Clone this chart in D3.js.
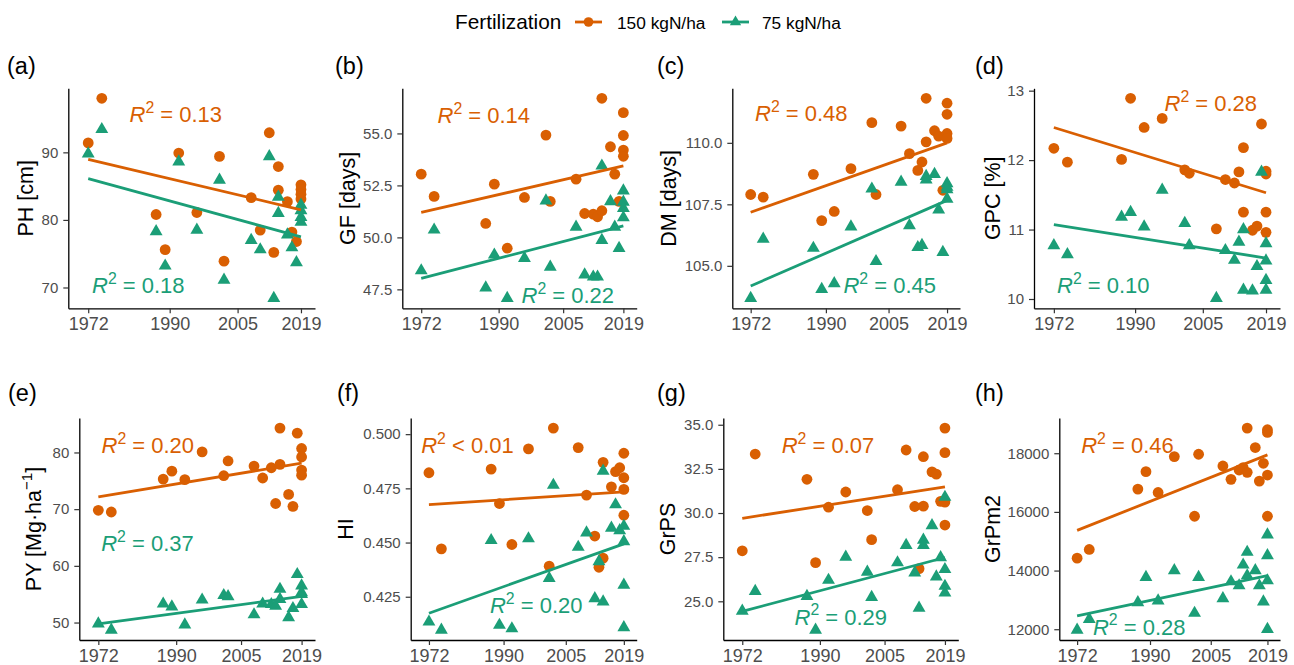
<!DOCTYPE html>
<html>
<head>
<meta charset="utf-8">
<script src="https://cdn.jsdelivr.net/npm/d3@7"></script>
<style>
  body { margin: 0; background: #fff; }
  svg { display: block; font-family: "Liberation Sans", Arial, Helvetica, sans-serif; }
  text { white-space: pre; }
</style>
</head>
<body>
<svg id="chart" width="1294" height="665"></svg>
<script>
// ---- data --------------------------------------------------------------
const YEARS = [1972, 1975, 1987, 1989, 1992, 1996, 2001, 2002, 2008, 2010, 2012,
  2013, 2014, 2014, 2016, 2017, 2018, 2019, 2019, 2019, 2019];
const X_TICKS = [1972, 1990, 2005, 2019];

const PH_150 = [91.4, 98.0, 80.8, 75.6, 89.9, 81.1, 89.4, 73.9, 83.3, 78.5, 92.9, 75.2, 87.9, 84.4, 82.7, 78.2, 76.8, 85.2, 84.5, 83.8, 83.1];
const PH_75 = [89.8, 93.4, 78.3, 73.2, 88.6, 78.5, 85.9, 71.1, 77.0, 75.6, 89.4, 68.4, 83.4, 81.0, 77.8, 75.9, 73.7, 82.2, 81.4, 80.4, 79.7];
const GF_150 = [53.04, 51.97, 50.67, 52.56, 49.48, 51.92, 54.92, 51.73, 52.80, 51.15, 51.12, 50.99, 56.69, 51.28, 54.36, 53.04, 51.73, 56.0, 54.9, 54.2, 53.9];
const GF_75 = [48.4, 50.36, 47.58, 49.16, 47.07, 49.0, 51.76, 48.58, 50.5, 48.2, 48.1, 48.1, 53.44, 49.86, 51.73, 50.5, 49.48, 52.24, 51.7, 51.4, 50.95];
const DM_150 = [107.9, 107.79, 108.72, 106.84, 107.21, 108.95, 110.82, 107.9, 110.68, 109.56, 108.88, 109.22, 111.81, 110.04, 110.49, 110.27, 108.07, 111.61, 111.16, 110.38, 110.18];
const DM_75 = [103.68, 106.09, 105.72, 104.05, 104.28, 106.59, 108.13, 105.18, 108.41, 106.64, 105.75, 105.84, 108.64, 108.5, 108.72, 107.28, 105.55, 108.35, 108.2, 108.1, 107.72];
const GPC_150 = [12.17, 11.97, 12.01, 12.89, 12.47, 12.60, 11.86, 11.81, 11.01, 11.72, 11.67, 11.83, 12.18, 11.25, 10.99, 11.05, 12.52, 11.84, 11.80, 11.25, 10.96];
const GPC_75 = [10.77, 10.64, 11.18, 11.25, 11.04, 11.57, 11.09, 10.77, 10.01, 10.70, 10.56, 10.82, 11.0, 10.13, 10.12, 10.47, 11.83, 10.80, 10.55, 10.27, 10.13];
const PY_150 = [69.8, 69.5, 75.3, 76.7, 75.2, 80.1, 75.9, 78.5, 77.6, 75.5, 77.3, 71.0, 77.9, 84.3, 72.6, 70.5, 83.4, 80.7, 79.2, 76.9, 76.0];
const PY_75 = [49.8, 48.7, 53.3, 52.8, 49.6, 54.0, 54.8, 54.6, 51.4, 53.3, 53.2, 52.9, 55.9, 54.1, 50.9, 52.5, 58.5, 56.5, 55.3, 53.2, 55.0];
const HI_150 = [0.4822, 0.4471, 0.4839, 0.4680, 0.4491, 0.4932, 0.4391, 0.5028, 0.4938, 0.4719, 0.4530, 0.4386, 0.4870, 0.4428, 0.4757, 0.4827, 0.4845, 0.4912, 0.4799, 0.4745, 0.4626];
const HI_75 = [0.4134, 0.4097, 0.4510, 0.4119, 0.4103, 0.4518, 0.4335, 0.4765, 0.4479, 0.4545, 0.4242, 0.4413, 0.4830, 0.4227, 0.4567, 0.4675, 0.4556, 0.4576, 0.4505, 0.4304, 0.4108];
const GRPS_150 = [27.86, 33.34, 31.91, 27.19, 30.33, 31.19, 30.14, 28.49, 31.32, 33.57, 30.37, 26.85, 33.19, 30.39, 32.33, 32.2, 30.66, 34.81, 33.42, 30.62, 29.32];
const GRPS_75 = [24.45, 25.57, 25.29, 23.38, 26.2, 27.51, 26.66, 25.23, 27.19, 28.18, 26.62, 24.62, 28.47, 28.18, 29.29, 26.39, 27.48, 30.90, 26.81, 25.86, 25.48];
const GRPM2_150 = [14423, 14720, 16777, 17371, 16663, 17886, 15851, 17966, 17566, 17109, 17429, 17509, 18857, 17349, 18194, 17051, 17657, 18800, 18709, 17257, 15851];
const GRPM2_75 = [11977, 12343, 12914, 13771, 12971, 14000, 12549, 13771, 13051, 13623, 13486, 14194, 14629, 13829, 14000, 13486, 12937, 15223, 14514, 13657, 12000];

// fitted line values at 1972 and 2019
const FIT_150 = [[88.96, 81.5], [51.2, 53.44], [107.18, 110.0], [12.47, 11.53], [72.16, 78.1], [0.4675, 0.4734], [29.70, 31.48], [15371, 17943]];
const FIT_75 = [[86.1, 77.5], [48.03, 50.55], [104.18, 107.66], [11.07, 10.59], [49.76, 54.6], [0.4174, 0.4494], [24.43, 27.48], [12457, 13829]];

const R2_150 = ['= 0.13', '= 0.14', '= 0.48', '= 0.28', '= 0.20', '< 0.01', '= 0.07', '= 0.46'];
const R2_75 = ['= 0.18', '= 0.22', '= 0.45', '= 0.10', '= 0.37', '= 0.20', '= 0.29', '= 0.28'];

const TAGS = ['(a)', '(b)', '(c)', '(d)', '(e)', '(f)', '(g)', '(h)'];
const Y_TITLES = ['PH [cm]', 'GF [days]', 'DM [days]', 'GPC [%]', 'PY [Mg\u00b7ha', 'HI', 'GrPS', 'GrPm2'];
const Y_TICKS = [
  [70, 80, 90], [47.5, 50, 52.5, 55], [105, 107.5, 110], [10, 11, 12, 13],
  [50, 60, 70, 80], [0.425, 0.45, 0.475, 0.5], [25, 27.5, 30, 32.5, 35], [12000, 14000, 16000, 18000]
];
const Y_FORMATS = ['d', '.1f', '.1f', 'd', 'd', '.3f', '.1f', 'd'];
const SERIES_LABELS = ['150 kgN/ha', '75 kgN/ha'];

// ---- layout ----------------------------------------------------------------
const C150 = '#D95F02';
const C75 = '#1B9E77';
const X_DOMAIN = [1967.6, 2022.1];
// plot area [left, top, right, bottom] of each panel
const PANEL_BOX = [
  [68.3, 88.3, 315, 308.3], [402.3, 88.3, 636.7, 308.3], [732.3, 88.3, 960, 308.3], [1034, 88.3, 1280, 308.3],
  [79.3, 418, 315, 640], [410.7, 418, 636.7, 640], [723.3, 418, 958.3, 640], [1059.3, 418, 1280, 640]
];
const TAG_AT = [[7, 74], [335, 74], [657, 74], [975, 74], [8, 401], [337, 401], [657, 401], [975, 401]];
const YTITLE_X = [25, 347, 668, 992, 33, 345, 667, 992];
const LABEL_150 = [[175.8, 114], [483.8, 115], [801.3, 113.5], [1210.8, 103.5], [147.8, 445], [467.5, 445], [828, 445], [1127.5, 445]];
const LABEL_75 = [[138.3, 285.5], [567.8, 295], [889.7, 285], [1103.3, 285], [147.5, 543.3], [536.2, 605], [840.8, 616.7], [1139.2, 626.7]];

const panels = [
  [PH_150, PH_75], [GF_150, GF_75], [DM_150, DM_75], [GPC_150, GPC_75],
  [PY_150, PY_75], [HI_150, HI_75], [GRPS_150, GRPS_75], [GRPM2_150, GRPM2_75]
];

const svg = d3.select('#chart');
const triangle = d3.symbol().type(d3.symbolTriangle).size(72);

function r2Label(g, pos, op, color) {
  const fs = 22;
  const t = g.append('text')
    .attr('x', pos[0]).attr('y', pos[1] + 0.36 * fs)
    .attr('text-anchor', 'middle')
    .attr('font-size', fs)
    .attr('fill', color);
  t.append('tspan').attr('font-style', 'italic').text('R');
  t.append('tspan').attr('font-size', fs * 0.72).attr('dy', -fs * 0.42).text('2');
  t.append('tspan').attr('dy', fs * 0.42).text(' ' + op);
}

panels.forEach(([hi, lo], i) => {
  const [l, t, r, b] = PANEL_BOX[i];
  const x = d3.scaleLinear().domain(X_DOMAIN).range([l, r]);
  const [mn, mx] = d3.extent(hi.concat(lo));
  const pad = (mx - mn) * 0.05;
  const y = d3.scaleLinear().domain([mn - pad, mx + pad]).range([b, t]);
  const g = svg.append('g');

  // axes
  const xAxis = g.append('g')
    .attr('transform', `translate(0,${b})`)
    .call(d3.axisBottom(x).tickValues(X_TICKS).tickFormat(d3.format('d'))
      .tickSize(5).tickPadding(4).tickSizeOuter(0));
  xAxis.selectAll('text').attr('font-size', 18).attr('fill', '#4D4D4D').attr('font-family', null);

  const yAxis = g.append('g')
    .attr('transform', `translate(${l},0)`)
    .call(d3.axisLeft(y).tickValues(Y_TICKS[i]).tickFormat(d3.format(Y_FORMATS[i]))
      .tickSize(5).tickPadding(5).tickSizeOuter(0));
  yAxis.selectAll('text').attr('font-size', 15).attr('fill', '#4D4D4D').attr('font-family', null);

  g.selectAll('.domain').attr('stroke', '#000').attr('stroke-width', 1.3);
  g.selectAll('.tick line').attr('stroke', '#333').attr('stroke-width', 1.2);

  // points
  g.append('g').selectAll('circle')
    .data(hi)
    .join('circle')
    .attr('cx', (d, k) => x(YEARS[k]))
    .attr('cy', d => y(d))
    .attr('r', 5.4)
    .attr('fill', C150);

  g.append('g').selectAll('path')
    .data(lo)
    .join('path')
    .attr('d', triangle)
    .attr('transform', (d, k) => `translate(${x(YEARS[k])},${y(d)})`)
    .attr('fill', C75);

  // fitted lines
  const ends = [YEARS[0], YEARS[YEARS.length - 1]];
  const line = d3.line().x((d, k) => x(ends[k])).y(d => y(d));
  g.append('path').attr('d', line(FIT_150[i])).attr('fill', 'none')
    .attr('stroke', C150).attr('stroke-width', 2.8);
  g.append('path').attr('d', line(FIT_75[i])).attr('fill', 'none')
    .attr('stroke', C75).attr('stroke-width', 2.8);

  r2Label(g, LABEL_150[i], R2_150[i], C150);
  r2Label(g, LABEL_75[i], R2_75[i], C75);

  // tag
  g.append('text')
    .attr('x', TAG_AT[i][0]).attr('y', TAG_AT[i][1])
    .attr('font-size', 23.5).attr('fill', '#000')
    .text(TAGS[i]);

  // y title
  const fsT = 21.5;
  const yt = g.append('text')
    .attr('transform', `translate(${YTITLE_X[i] + 0.36 * fsT},${(t + b) / 2}) rotate(-90)`)
    .attr('text-anchor', 'middle')
    .attr('font-size', fsT).attr('fill', '#000')
    .text(Y_TITLES[i]);
  if (i === 4) {
    yt.append('tspan').attr('font-size', fsT * 0.7).attr('dy', -fsT * 0.4).text('\u22121');
    yt.append('tspan').attr('dy', fsT * 0.4).text(']');
  }
});

// legend
const lg = svg.append('g');
lg.append('text').attr('x', 455).attr('y', 29).attr('font-size', 20.8).attr('fill', '#000').text('Fertilization');
const keys = [
  { x0: 575, lx: 617, color: C150 },
  { x0: 722, lx: 762, color: C75 }
];
keys.forEach((k, j) => {
  lg.append('line').attr('x1', k.x0).attr('x2', k.x0 + 27).attr('y1', 22).attr('y2', 22)
    .attr('stroke', k.color).attr('stroke-width', 2.8);
  if (j === 0) {
    lg.append('circle').attr('cx', k.x0 + 13.5).attr('cy', 22).attr('r', 4.8).attr('fill', k.color);
  } else {
    lg.append('path').attr('d', d3.symbol().type(d3.symbolTriangle).size(56))
      .attr('transform', `translate(${k.x0 + 13.5},22)`).attr('fill', k.color);
  }
  lg.append('text').attr('x', k.lx).attr('y', 28.5).attr('font-size', 17.3).attr('fill', '#000')
    .text(SERIES_LABELS[j]);
});
</script>
</body>
</html>
